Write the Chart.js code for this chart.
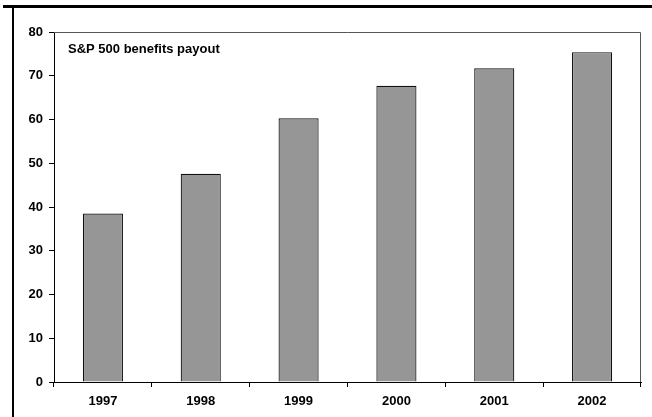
<!DOCTYPE html>
<html>
<head>
<meta charset="utf-8">
<script src="https://cdn.jsdelivr.net/npm/chart.js@4/dist/chart.umd.min.js"></script>
<style>
  html, body { margin: 0; padding: 0; background: #fff; }
  #wrap { width: 652px; height: 417px; position: relative; }
</style>
</head>
<body>
<div id="wrap"><canvas id="c" width="652" height="417"></canvas></div>
<script>
// Years on the category axis
const years = ['1997', '1998', '1999', '2000', '2001', '2002'];
// Benefits payout per year
const payout = [38.5, 47.6, 60.3, 67.7, 71.7, 75.4];
// Value axis range and step
const yMin = 0;
const yMax = 80;
const yStep = 10;
// In-plot caption
const caption = 'S&P 500 benefits payout';

const FONT = '"Liberation Sans", Arial, Helvetica, sans-serif';

// Frame lines around the chart, plot border and caption
const decor = {
  id: 'decor',
  beforeDraw(chart) {
    const ctx = chart.ctx;
    ctx.save();
    ctx.fillStyle = '#fff';
    ctx.fillRect(0, 0, chart.width, chart.height);
    ctx.restore();
  },
  afterDatasetsDraw(chart) {
    const ctx = chart.ctx;
    const a = chart.chartArea;
    ctx.save();
    // plot border (top and right)
    ctx.strokeStyle = '#555';
    ctx.lineWidth = 1;
    ctx.beginPath();
    ctx.moveTo(a.left, a.top + 0.5);
    ctx.lineTo(a.right - 0.5, a.top + 0.5);
    ctx.lineTo(a.right - 0.5, a.bottom);
    ctx.stroke();
    // outer frame
    ctx.fillStyle = '#000';
    ctx.fillRect(3, 5, chart.width - 3, 3);
    ctx.fillRect(12, 5, 2, chart.height - 5);
    // caption
    ctx.font = 'bold 13px ' + FONT;
    ctx.textAlign = 'left';
    ctx.textBaseline = 'middle';
    ctx.fillText(caption, a.left + 14, a.top + 17);
    ctx.restore();
  }
};

new Chart(document.getElementById('c'), {
  type: 'bar',
  data: {
    labels: years,
    datasets: [{
      data: payout,
      backgroundColor: '#969696',
      borderColor: '#111',
      borderWidth: 1.2,
      barPercentage: 0.41,
      categoryPercentage: 1
    }]
  },
  options: {
    responsive: false,
    animation: false,
    devicePixelRatio: 1,
    layout: { padding: { left: 0, top: 32, right: 11, bottom: 0 } },
    plugins: { legend: { display: false }, tooltip: { enabled: false } },
    scales: {
      x: {
        offset: true,
        grid: { display: true, offset: true, drawOnChartArea: false, tickLength: 5, color: '#000', lineWidth: 1 },
        border: { display: true, color: '#000', width: 1 },
        ticks: { color: '#000', padding: 7, maxRotation: 0, font: { family: FONT, size: 13, weight: 'bold' } },
        afterFit(scale) { scale.height = 35; }
      },
      y: {
        min: yMin,
        max: yMax,
        grid: { display: true, drawOnChartArea: false, tickLength: 5, color: '#000', lineWidth: 1 },
        border: { display: true, color: '#000', width: 1 },
        ticks: { stepSize: yStep, color: '#000', padding: 6, font: { family: FONT, size: 13, weight: 'bold' } },
        afterFit(scale) { scale.width = 54; }
      }
    }
  },
  plugins: [decor]
});
</script>
</body>
</html>
